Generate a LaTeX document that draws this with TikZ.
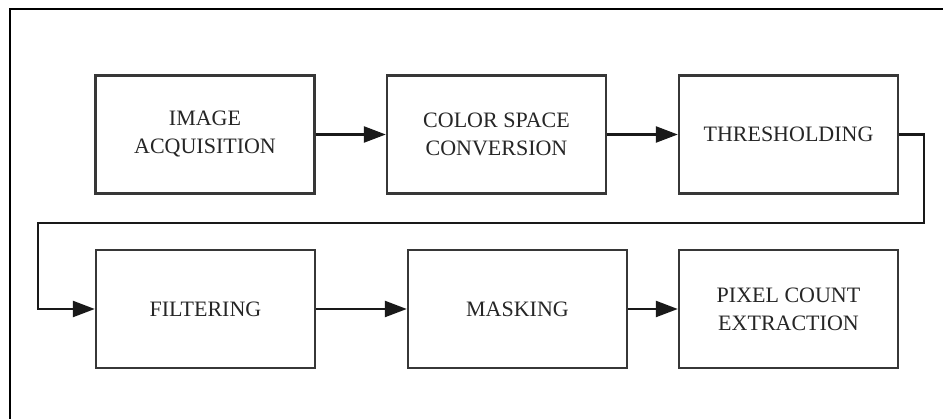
\documentclass[tikz,border=0pt]{standalone}
\usepackage{fontspec}
\setmainfont{Liberation Serif}
\usetikzlibrary{arrows.meta}
\definecolor{boxline}{RGB}{55,55,55}
\definecolor{conn}{RGB}{25,25,25}
\tikzset{
  stepbox/.style={draw=boxline, line width=2.4pt, minimum width=219pt, minimum height=118pt,
    inner sep=0pt, align=center, font=\fontsize{22}{28}\selectfont, text=black!85},
  flow/.style={draw=conn, line width=2.4pt, -{Triangle[length=22pt,width=16pt]}}
}
\begin{document}
\begin{tikzpicture}[x=1pt,y=-1pt]
\useasboundingbox (0,0) rectangle (943,419);
\clip (0,0) rectangle (943,419);
\fill[white] (0,0) rectangle (943,419);
\draw[line width=2.6pt, black] (10,9) rectangle (970,450);
\node[stepbox] (a) at (205,134.5) {IMAGE\\ACQUISITION};
\node[stepbox] (b) at (496.5,134.5) {COLOR SPACE\\CONVERSION};
\node[stepbox] (c) at (788.5,134.5) {THRESHOLDING};
\node[stepbox] (d) at (205.5,309) {FILTERING};
\node[stepbox] (e) at (517.5,309) {MASKING};
\node[stepbox] (f) at (788.5,309) {PIXEL COUNT\\EXTRACTION};
\coordinate (r1) at (924,134.5);
\coordinate (r2) at (924,223);
\coordinate (l1) at (38,223);
\coordinate (l2) at (38,309);
\draw[flow] (a) -- (b);
\draw[flow] (b) -- (c);
\draw[flow] (c.east) -- (r1) -- (r2) -- (l1) -- (l2) -- (d.west);
\draw[flow] (d) -- (e);
\draw[flow] (e) -- (f);
\end{tikzpicture}
\end{document}
